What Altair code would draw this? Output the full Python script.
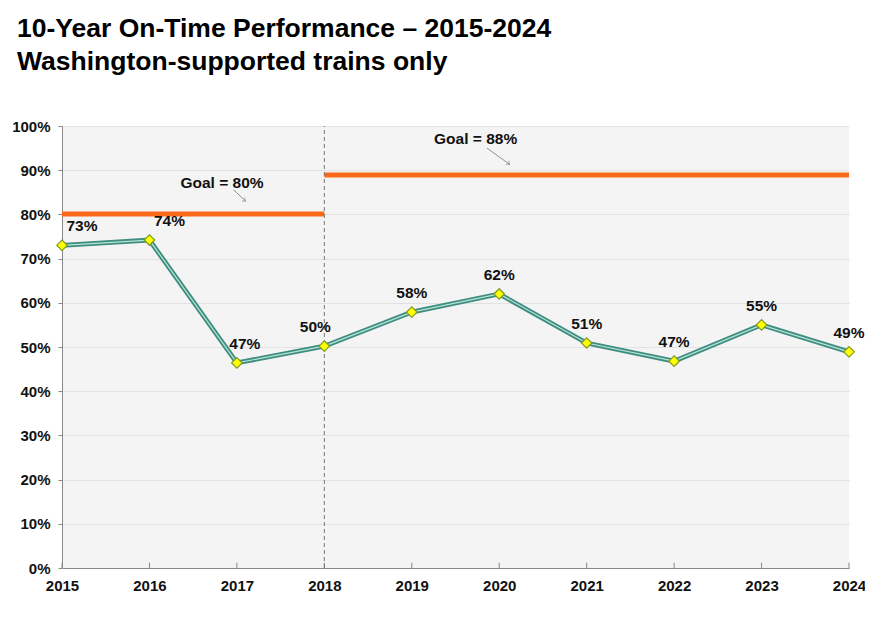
import altair as alt
import pandas as pd

years = [2015, 2016, 2017, 2018, 2019, 2020, 2021, 2022, 2023, 2024]
otp = [73.0, 74.2, 46.4, 50.2, 57.9, 62.0, 50.9, 46.8, 55.0, 48.9]
labels = ["73%", "74%", "47%", "50%", "58%", "62%", "51%", "47%", "55%", "49%"]
label_group = ["r", "r", "m", "l", "c", "c", "c", "c", "c", "c"]

goal_start = [2015, 2018]
goal_end = [2018, 2024]
goal_value = [80.1, 88.9]

ann_text = ["Goal = 80%", "Goal = 88%"]
ann_x = [2016.83, 2019.73]
ann_y = [87.2, 97.1]
arrow_x0 = [2016.96, 2019.86]
arrow_y0 = [85.6, 95.0]
arrow_x1 = [2017.10, 2020.12]
arrow_y1 = [83.0, 91.3]

FONT = "Liberation Sans"

df = pd.DataFrame({"year": years, "otp": otp, "label": labels, "grp": label_group})
goals = pd.DataFrame({"x0": goal_start, "x1": goal_end, "v": goal_value})
ann = pd.DataFrame({"t": ann_text, "x": ann_x, "y": ann_y,
                    "ax0": arrow_x0, "ay0": arrow_y0, "ax1": arrow_x1, "ay1": arrow_y1})

xs = alt.Scale(domain=[2015, 2024], nice=False)
ys = alt.Scale(domain=[0, 100], nice=False)

xax = alt.Axis(values=years, format="d", title=None, labelFont=FONT, labelFontSize=15,
               labelFontWeight="bold", labelColor="#111", grid=False, ticks=False,
               domainColor="#888", labelPadding=10, labelFlush=False)
yax = alt.Axis(values=list(range(0, 101, 10)), labelExpr="datum.value + '%'", title=None,
               labelFont=FONT, labelFontSize=15, labelFontWeight="bold", labelColor="#111",
               gridColor="#e2e2e2", domainColor="#888", tickColor="#888", tickSize=4,
               labelPadding=8)

base = alt.Chart(df)

line_outer = base.mark_line(color="#3e8e80", strokeWidth=4.8).encode(
    x=alt.X("year:Q", scale=xs, axis=xax), y=alt.Y("otp:Q", scale=ys, axis=yax))
line_inner = base.mark_line(color="#b9e3da", strokeWidth=1.2).encode(
    x=alt.X("year:Q", scale=xs), y=alt.Y("otp:Q", scale=ys))

ticks = base.mark_rule(color="#888", strokeWidth=1).encode(
    x=alt.X("year:Q", scale=xs), y=alt.datum(0), y2=alt.datum(1.2))

goal_lines = alt.Chart(goals).mark_rule(color="#fa6a1a", strokeWidth=5).encode(
    x=alt.X("x0:Q", scale=xs), x2="x1:Q", y=alt.Y("v:Q", scale=ys))

vline = alt.Chart(pd.DataFrame({"x": [2018]})).mark_rule(
    color="#777", strokeDash=[4, 3], strokeWidth=1).encode(
    x=alt.X("x:Q", scale=xs), y=alt.datum(0), y2=alt.datum(100))

points = base.mark_point(shape="diamond", filled=True, fill="#ffff00", stroke="#7f9a20",
                         strokeWidth=1.2, size=110, opacity=1).encode(
    x=alt.X("year:Q", scale=xs), y=alt.Y("otp:Q", scale=ys))

def lab(grp, dx):
    return base.transform_filter(alt.datum.grp == grp).mark_text(
        font=FONT, fontSize=15.5, fontWeight="bold", color="#111", dx=dx, dy=-19).encode(
        x=alt.X("year:Q", scale=xs), y=alt.Y("otp:Q", scale=ys), text="label:N")

text_layers = [lab("r", 20), lab("m", 8), lab("l", -9), lab("c", 0)]

ann_text_l = alt.Chart(ann).mark_text(font=FONT, fontSize=15.5, fontWeight="bold", color="#111").encode(
    x=alt.X("x:Q", scale=xs), y=alt.Y("y:Q", scale=ys), text="t:N")
arrows = alt.Chart(ann).mark_rule(color="#777", strokeWidth=0.8).encode(
    x=alt.X("ax0:Q", scale=xs), x2="ax1:Q", y=alt.Y("ay0:Q", scale=ys), y2="ay1:Q")
heads = alt.Chart(ann).mark_point(shape="M -1 -0.7 L 0 0 L -1 0.7", filled=False,
                                  stroke="#777", strokeWidth=0.8, size=40, angle=37).encode(
    x=alt.X("ax1:Q", scale=xs), y=alt.Y("ay1:Q", scale=ys))

chart = alt.layer(line_outer, ticks, goal_lines, vline, line_inner, points, *text_layers,
                  ann_text_l, arrows, heads).properties(
    width=787, height=442,
    autosize=alt.AutoSizeParams(type="none"),
    padding={"left": 54, "top": 118, "right": 16, "bottom": 30},
    title=alt.TitleParams(
        text=["10-Year On-Time Performance \u2013 2015-2024", "Washington-supported trains only"],
        font=FONT, fontSize=26.5, fontWeight="bold", color="#000", anchor="start",
        frame="group", dx=-45, offset=44, lineHeight=33),
    background="white",
).configure_view(fill="#f4f4f4", stroke=None)

chart.save("out.html", embed_options={"renderer": "svg", "actions": False})
